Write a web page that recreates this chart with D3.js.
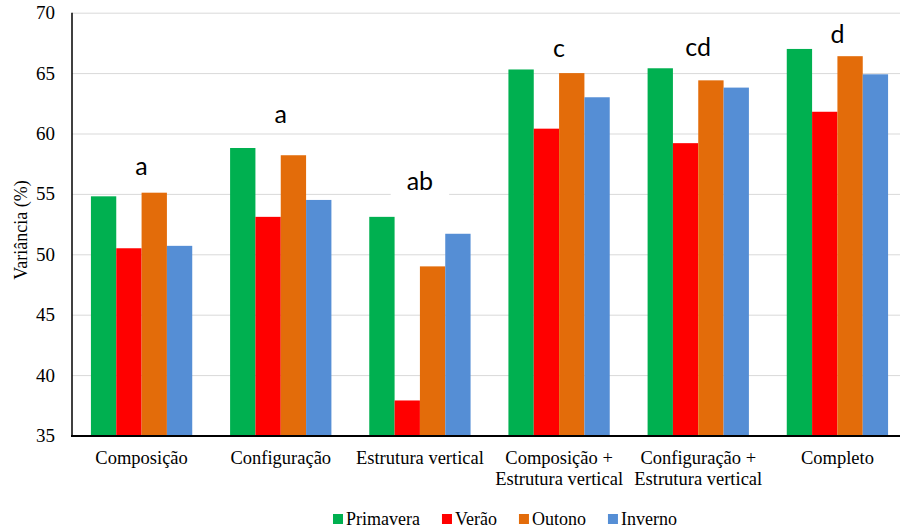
<!DOCTYPE html>
<html>
<head>
<meta charset="utf-8">
<script src="https://cdn.jsdelivr.net/npm/d3@7"></script>
<style>
	body { margin: 0; background: #fff; }
	svg { display: block; }
</style>
</head>
<body>
<div class="chart"></div>
<script>
// data
let categories = ['Composição', 'Configuração', 'Estrutura vertical',
	'Composição +\nEstrutura vertical', 'Configuração +\nEstrutura vertical', 'Completo'];
let seasons = ['Primavera', 'Verão', 'Outono', 'Inverno'];
let primavera = [54.8, 58.8, 53.1, 65.3, 65.4, 67.0];
let verao = [50.5, 53.1, 37.9, 60.4, 59.2, 61.8];
let outono = [55.1, 58.2, 49.0, 65.0, 64.4, 66.4];
let inverno = [50.7, 54.5, 51.7, 63.0, 63.8, 64.9];
let letters = ['a', 'a', 'ab', 'c', 'cd', 'd'];
let letterLevel = [56.6, 60.9, 55.3, 66.3, 66.4, 67.5];
let yTicks = [35, 40, 45, 50, 55, 60, 65, 70];

let colors = ['#00b050', '#ff0000', '#e36c0a', '#558ed5'];
let seriesValues = [primavera, verao, outono, inverno];

let W = 900, H = 530;
let plotLeft = 72, plotRight = 907, plotTop = 12.7, plotBottom = 435.5;
let serif = "'Liberation Serif', 'Times New Roman', serif";

let svg = d3.select('.chart')
	.append('svg')
	.attr('width', W)
	.attr('height', H);

let x0 = d3.scaleBand()
	.domain(categories)
	.range([plotLeft, plotRight])
	.paddingInner(0.272)
	.paddingOuter(0.136);

let x1 = d3.scaleBand()
	.domain(seasons)
	.range([0, x0.bandwidth()]);

let y = d3.scaleLinear()
	.domain([35, 70])
	.range([plotBottom, plotTop]);

// y axis + gridlines
let yAxis = svg.append('g')
	.attr('transform', 'translate(' + plotLeft + ',0)')
	.call(d3.axisLeft(y).tickValues(yTicks).tickSize(-(W - plotLeft)).tickPadding(17));
yAxis.select('.domain').remove();
yAxis.selectAll('line').attr('stroke', '#d9d9d9').attr('stroke-width', 1);
yAxis.selectAll('text')
	.style('font-family', serif)
	.style('font-size', '19px')
	.attr('fill', '#000');

// bars
let rows = categories.map((c, i) => ({ cat: c, vals: seasons.map((s, j) => ({ s: s, v: seriesValues[j][i], j: j })) }));

svg.append('g')
	.selectAll('g')
	.data(rows)
	.enter()
	.append('g')
	.attr('transform', d => 'translate(' + x0(d.cat) + ',0)')
	.selectAll('rect')
	.data(d => d.vals)
	.enter()
	.append('rect')
	.attr('x', d => x1(d.s))
	.attr('y', d => y(d.v))
	.attr('width', x1.bandwidth())
	.attr('height', d => y(35) - y(d.v))
	.attr('fill', d => colors[d.j]);

// significance letters with white box
let lg = svg.append('g');
letters.forEach((l, i) => {
	let g = lg.append('g');
	let t = g.append('text')
		.attr('x', x0(categories[i]) + x0.bandwidth() / 2)
		.attr('y', y(letterLevel[i]))
		.attr('text-anchor', 'middle')
		.style('font-family', "Lato, 'Open Sans', sans-serif")
		.style('font-size', '25px')
		.attr('fill', '#000')
		.text(l);
	let b = t.node().getBBox();
	g.insert('rect', 'text')
		.attr('x', b.x - 16)
		.attr('y', b.y)
		.attr('width', b.width + 32)
		.attr('height', b.height + 1)
		.attr('fill', '#fff');
});

// axis lines
svg.append('line')
	.attr('x1', plotLeft).attr('x2', plotLeft)
	.attr('y1', y(70)).attr('y2', plotBottom + 1)
	.attr('stroke', '#000').attr('stroke-width', 1.5);
svg.append('line')
	.attr('x1', plotLeft - 1).attr('x2', W)
	.attr('y1', plotBottom + 0.5).attr('y2', plotBottom + 0.5)
	.attr('stroke', '#000').attr('stroke-width', 2);

// category labels
let cl = svg.append('g');
categories.forEach(c => {
	let t = cl.append('text')
		.attr('text-anchor', 'middle')
		.style('font-family', serif)
		.style('font-size', '18.5px')
		.attr('fill', '#000');
	c.split('\n').forEach((line, k) => {
		t.append('tspan')
			.attr('x', x0(c) + x0.bandwidth() / 2)
			.attr('y', 464 + k * 21)
			.text(line);
	});
});

// y title
svg.append('text')
	.attr('transform', 'translate(27,230) rotate(-90)')
	.attr('text-anchor', 'middle')
	.style('font-family', serif)
	.style('font-size', '18px')
	.text('Variância (%)');

// legend
let lx = 333;
let legend = svg.append('g');
seasons.forEach((s, i) => {
	legend.append('rect')
		.attr('x', lx).attr('y', 514)
		.attr('width', 10).attr('height', 10)
		.attr('fill', colors[i]);
	let t = legend.append('text')
		.attr('x', lx + 13)
		.attr('y', 525)
		.style('font-family', serif)
		.style('font-size', '18px')
		.attr('fill', '#000')
		.text(s);
	lx += 13 + t.node().getComputedTextLength() + 22;
});
</script>
</body>
</html>
